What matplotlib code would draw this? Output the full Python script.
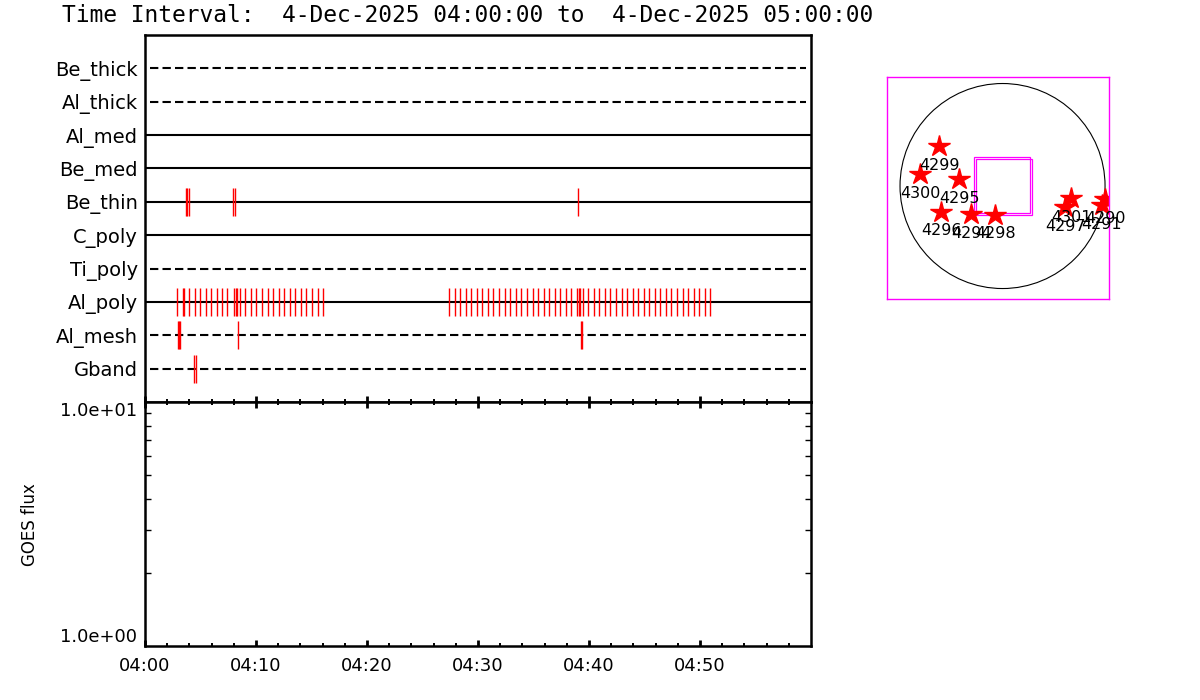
import numpy as np
import matplotlib
matplotlib.use("Agg")
import matplotlib.pyplot as plt
from matplotlib.patches import Circle, Rectangle

plt.rcParams["font.family"] = ["DejaVu Sans"]
plt.rcParams["lines.scale_dashes"] = False

# ---- data ----------------------------------------------------------
TITLE = "Time Interval:  4-Dec-2025 04:00:00 to  4-Dec-2025 05:00:00"

filters = ["Be_thick", "Al_thick", "Al_med", "Be_med", "Be_thin",
           "C_poly", "Ti_poly", "Al_poly", "Al_mesh", "Gband"]
dashed = [True, True, False, False, False, False, True, False, True, True]

# exposure times, minutes after 04:00
obs_times = {
    "Be_thin": [3.72, 3.80, 3.99, 7.95, 8.14, 39.04],
    "Al_poly": [2.91, 3.40, 3.50, 3.99, 4.50, 4.98, 5.47, 5.95, 6.46, 6.94,
                7.41, 8.05, 8.22, 8.30, 8.59, 9.04, 9.52, 10.03, 10.54, 11.05,
                11.56, 12.05, 12.55, 13.04, 13.54, 14.03, 14.54, 15.05, 15.56,
                16.04,
                27.41, 27.95, 28.41, 28.92, 29.40, 29.94, 30.39, 30.93, 31.38,
                31.92, 32.41, 32.91, 33.42, 33.90, 34.41, 34.93, 35.41, 35.92,
                36.40, 36.91, 37.41, 37.93, 38.41, 38.92, 39.13, 39.22, 39.43,
                39.91, 40.42, 40.93, 41.41, 41.92, 42.43, 42.95, 43.42, 43.94,
                44.41, 44.93, 45.43, 45.92, 46.42, 46.94, 47.41, 47.93, 48.44,
                48.92, 49.43, 49.94, 50.42, 50.93],
    "Al_mesh": [2.99, 3.08, 3.17, 8.41, 39.30, 39.40],
    "Gband": [4.44, 4.62],
}

time_ticks = [0, 10, 20, 30, 40, 50]
time_labels = ["04:00", "04:10", "04:20", "04:30", "04:40", "04:50"]

goes_ylim = [1.0, 10.0]
goes_labels = ["1.0e+00", "1.0e+01"]

# active regions on the disk (arcsec)
ar_nums = ["4299", "4300", "4295", "4296", "4294", "4298",
           "4301", "4297", "4290", "4291"]
ar_x = [-595, -770, -407, -576, -295, -70, 642, 585, 960, 927]
ar_y = [375, 108, 68, -239, -262, -267, -108, -197, -122, -178]

# XRT field of view boxes: centre x, centre y, size (arcsec)
fov_x = [-4, 14]
fov_y = [7, -7]
fov_size = [525, 525]

R_SUN = 960

# ---- figure --------------------------------------------------------
fig = plt.figure(figsize=(12, 7), dpi=100)

W, H = 1200, 700
def box(l, t, r, b):
    return [l / W, 1 - b / H, (r - l) / W, (b - t) / H]

ax1 = fig.add_axes(box(145, 35, 811, 402))
ax2 = fig.add_axes(box(145, 402, 811, 646))
ax3 = fig.add_axes(box(887, 77, 1109, 299))

fig.text(62 / W, 1 - 16 / H, TITLE, fontsize=16.5, va="center", ha="left",
         family=["DejaVu Sans Mono"])

# top panel: filter timeline
for i, (name, dsh) in enumerate(zip(filters, dashed)):
    y = i + 1
    if dsh:
        ax1.axhline(y, xmin=0.008, xmax=0.993, color="black", lw=1.5,
                    dashes=(6, 3))
    else:
        ax1.axhline(y, color="black", lw=1.5)
    if name in obs_times:
        ax1.vlines(obs_times[name], y - 0.42, y + 0.42, color="red", lw=1.0)

ax1.set_xlim(0, 60)
ax1.set_ylim(11, 0)
ax1.set_yticks(range(1, len(filters) + 1))
ax1.set_yticklabels(filters, fontsize=14)
ax1.tick_params(axis="y", length=0, pad=5)
ax1.set_xticks(np.arange(0, 60, 10))
ax1.set_xticks(np.arange(0, 60, 2), minor=True)
ax1.tick_params(axis="x", which="both", direction="in", labelbottom=False,
                bottom=True, top=False)
ax1.tick_params(axis="x", which="major", length=4.5, width=2)
ax1.tick_params(axis="x", which="minor", length=2.5, width=1.4)
for s in ax1.spines.values():
    s.set_linewidth(1.8)

# bottom panel: GOES flux
ax2.set_yscale("log")
ax2.set_ylim(*goes_ylim)
ax2.set_xlim(0, 60)
ax2.set_yticks(goes_ylim)
ax2.set_yticklabels(goes_labels, fontsize=13)
ax2.set_yticks(np.arange(2, 10), minor=True)
ax2.yaxis.set_minor_formatter(plt.NullFormatter())
ax2.tick_params(axis="y", which="both", direction="in", left=True, right=True,
                pad=6)
ax2.tick_params(axis="y", which="minor", length=4.5, width=1)
ax2.tick_params(axis="y", which="major", length=0)
labs = ax2.get_yticklabels()
labs[0].set_va("bottom")
labs[1].set_va("top")
ax2.set_xticks(time_ticks)
ax2.set_xticklabels(time_labels, fontsize=13)
ax2.set_xticks(np.arange(0, 60, 2), minor=True)
ax2.tick_params(axis="x", which="both", direction="in", top=True, bottom=True,
                pad=8)
ax2.tick_params(axis="x", which="major", length=4.5, width=2)
ax2.tick_params(axis="x", which="minor", length=2.5, width=1.4)
for s in ax2.spines.values():
    s.set_linewidth(1.8)
fig.text(30 / W, 1 - 525 / H, "GOES flux", rotation=90, fontsize=12,
         va="center", ha="center")

# sun panel
ax3.set_xlim(-1082, 997)
ax3.set_ylim(-1058, 1021)
ax3.set_xticks([])
ax3.set_yticks([])
for s in ax3.spines.values():
    s.set_color("magenta")
    s.set_linewidth(1.0)
ax3.add_patch(Circle((0, 0), R_SUN, fill=False, color="black", lw=0.8))
for cx, cy, sz in zip(fov_x, fov_y, fov_size):
    ax3.add_patch(Rectangle((cx - sz / 2, cy - sz / 2), sz, sz, fill=False,
                            edgecolor="magenta", lw=0.9))
ax3.plot(ar_x, ar_y, ls="none", marker="*", ms=16, color="red", mec="red")
for num, x, y in zip(ar_nums, ar_x, ar_y):
    ax3.annotate(num, (x, y), xytext=(0, -14), textcoords="offset points",
                 ha="center", va="center", fontsize=11.5,
                 annotation_clip=False)

fig.savefig("out.png", dpi=100)
